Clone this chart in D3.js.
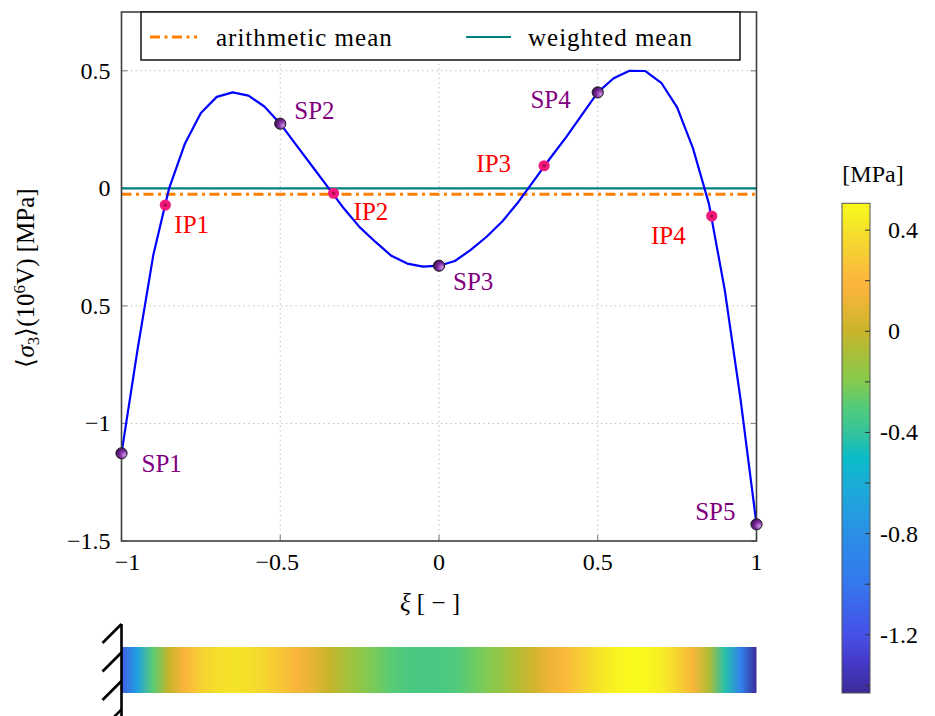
<!DOCTYPE html>
<html><head><meta charset="utf-8">
<script src="https://cdn.jsdelivr.net/npm/d3@7"></script>
</head><body style="margin:0;background:#fff">
<svg id="chart" width="935" height="716" style="display:block"></svg>
<script>
// ---------- data ----------
const xiValues = [-1,-0.95,-0.9,-0.85,-0.8,-0.75,-0.7,-0.65,-0.6,-0.55,-0.5,-0.45,-0.4,-0.35,-0.3,-0.25,-0.2,-0.15,-0.1,-0.05,0,
  0.05,0.1,0.15,0.2,0.25,0.3,0.35,0.4,0.45,0.5,0.55,0.6,0.65,0.7,0.75,0.8,0.85,0.9,0.95,1];
const sigmaValues = [-1.127,-0.69,-0.285,0.0,0.191,0.320,0.389,0.408,0.394,0.348,0.275,0.185,0.095,0.005,-0.085,-0.165,-0.228,-0.287,-0.320,-0.333,-0.329,
  -0.309,-0.262,-0.206,-0.140,-0.058,0.035,0.128,0.217,0.312,0.408,0.468,0.500,0.499,0.449,0.344,0.170,-0.065,-0.432,-0.900,-1.429];

const spNames = ["SP1","SP2","SP3","SP4","SP5"];
const spXi = [-1,-0.5,0,0.5,1];
const spSigma = [-1.127,0.275,-0.329,0.408,-1.429];

const ipNames = ["IP1","IP2","IP3","IP4"];
const ipXi = [-0.862,-0.332,0.331,0.859];
const ipSigma = [-0.071,-0.021,0.096,-0.118];

const arithmeticMean = -0.025;
const weightedMean = 0.0;

const xTickValues = [-1,-0.5,0,0.5,1];
const xTickLabels = ["\u22121","\u22120.5","0","0.5","1"];
const yTickValues = [-1.5,-1,-0.5,0,0.5];
const yTickLabels = ["\u22121.5","\u22121","0.5","0","0.5"];

const cbarMajorTicks = [0.4,0,-0.4,-0.8,-1.2];
const cbarMajorLabels = ["0.4","0","-0.4","-0.8","-1.2"];
const cbarMinorTicks = [0.2,-0.2,-0.6,-1.0,-1.4];
const cbarDomain = [-1.43,0.506];

// colormap
const cmapValues = [-1.43,-1.3,-1.2,-1.0,-0.8,-0.7,-0.6,-0.5,-0.4,-0.3,-0.2,-0.1,0.0,0.1,0.2,0.3,0.4,0.506];
const cmapColors = ["#3d2a98","#453bcb","#4650e8","#3577ee","#2a8fe6","#229fe0","#1aaed6","#0bbcc9","#35c39b","#52cb7a","#85ca4e","#a5c13c","#c8b42a","#e9b535","#fdb53d","#f6cc35","#f5e12a","#f9fa1c"];

// ---------- layout / style ----------
const svg = d3.select("#chart");
const P = {left:121.5, right:756.5, top:12, bottom:541};
const x = d3.scaleLinear().domain([-1,1]).range([P.left,P.right]);
const y = d3.scaleLinear().domain([-1.5,0.75]).range([P.bottom,P.top]);
const cmap = d3.scaleLinear().domain(cmapValues).range(cmapColors).interpolate(d3.interpolateRgb);

function txt(sel){
  return sel.append("text").attr("font-family","Liberation Serif").style("font-family","'Liberation Serif', serif").attr("fill","#000");
}

const defs = svg.append("defs");
const spGrad = defs.append("radialGradient").attr("id","spball").attr("cx","0.7").attr("cy","0.62").attr("r","0.8").attr("fx","0.78").attr("fy","0.68");
spGrad.append("stop").attr("offset","0").attr("stop-color","#d49ae6");
spGrad.append("stop").attr("offset","0.45").attr("stop-color","#7e2ea0");
spGrad.append("stop").attr("offset","1").attr("stop-color","#2e0640");

// grid
const gridX = xTickValues.filter(v => v>-1 && v<1);
const gridY = yTickValues.filter(v => v>-1.5);
svg.append("g").selectAll("line").data(gridX).join("line")
  .attr("x1",d=>x(d)).attr("x2",d=>x(d)).attr("y1",P.top).attr("y2",P.bottom)
  .attr("stroke","#b8b8b8").attr("stroke-width",1).attr("stroke-dasharray","1.3 3.4");
svg.append("g").selectAll("line").data(gridY).join("line")
  .attr("x1",P.left).attr("x2",P.right).attr("y1",d=>y(d)).attr("y2",d=>y(d))
  .attr("stroke","#b8b8b8").attr("stroke-width",1).attr("stroke-dasharray","1.3 3.4");

// ticks (inward, both sides)
const tk = svg.append("g").attr("stroke","#8a8a8a").attr("stroke-width",1.2);
xTickValues.forEach(v=>{
  tk.append("line").attr("x1",x(v)).attr("x2",x(v)).attr("y1",P.bottom).attr("y2",P.bottom-6);
  tk.append("line").attr("x1",x(v)).attr("x2",x(v)).attr("y1",P.top).attr("y2",P.top+6);
});
yTickValues.forEach(v=>{
  tk.append("line").attr("x1",P.left).attr("x2",P.left+6).attr("y1",y(v)).attr("y2",y(v));
  tk.append("line").attr("x1",P.right).attr("x2",P.right-6).attr("y1",y(v)).attr("y2",y(v));
});

// mean lines
svg.append("line").attr("x1",P.left).attr("x2",P.right).attr("y1",y(weightedMean)).attr("y2",y(weightedMean))
  .attr("stroke","#008080").attr("stroke-width",2.2);
svg.append("line").attr("x1",P.left).attr("x2",P.right).attr("y1",y(arithmeticMean)).attr("y2",y(arithmeticMean))
  .attr("stroke","#ff8000").attr("stroke-width",3).attr("stroke-dasharray","10 4.5 3 4.5");

// curve
const line = d3.line().x((d,i)=>x(xiValues[i])).y(d=>y(d));
svg.append("path").datum(sigmaValues).attr("d",line).attr("fill","none")
  .attr("stroke","#0000ff").attr("stroke-width",2.2).attr("stroke-linejoin","round");

// frame
svg.append("rect").attr("x",P.left).attr("y",P.top).attr("width",P.right-P.left).attr("height",P.bottom-P.top)
  .attr("fill","none").attr("stroke","#404040").attr("stroke-width",1.6);

// markers
const ipG = svg.append("g");
ipXi.forEach((v,i)=>{
  ipG.append("circle").attr("cx",x(v)).attr("cy",y(ipSigma[i])).attr("r",5.6).attr("fill","#f0197d");
  ipG.append("circle").attr("cx",x(v)).attr("cy",y(ipSigma[i])).attr("r",1.7).attr("fill","#b00840");
});
const spG = svg.append("g");
spXi.forEach((v,i)=>{
  spG.append("circle").attr("cx",x(v)).attr("cy",y(spSigma[i])).attr("r",5.6)
    .attr("fill","url(#spball)").attr("stroke","#1a1a1a").attr("stroke-width",1);
});

// labels
const spLabelPos = [{dx:20,dy:19,a:"start"},{dx:14,dy:-5,a:"start"},{dx:14,dy:24,a:"start"},{dx:-27,dy:16,a:"end"},{dx:-21,dy:-4,a:"end"}];
const ipLabelPos = [{dx:9,dy:28,a:"start"},{dx:20,dy:27,a:"start"},{dx:-33,dy:6,a:"end"},{dx:-26,dy:28,a:"end"}];
spNames.forEach((n,i)=>{
  txt(svg).attr("x",x(spXi[i])+spLabelPos[i].dx).attr("y",y(spSigma[i])+spLabelPos[i].dy)
    .attr("text-anchor",spLabelPos[i].a).attr("font-size",25).attr("fill","#800080").text(n);
});
ipNames.forEach((n,i)=>{
  txt(svg).attr("x",x(ipXi[i])+ipLabelPos[i].dx).attr("y",y(ipSigma[i])+ipLabelPos[i].dy)
    .attr("text-anchor",ipLabelPos[i].a).attr("font-size",25).attr("fill","#ff0000").text(n);
});

// tick labels
xTickValues.forEach((v,i)=>{
  txt(svg).attr("x",x(v)+(i===0?6:(i===1?-3:0))).attr("y",569.5).attr("text-anchor","middle")
    .attr("font-size",24).text(xTickLabels[i]);
});
yTickValues.forEach((v,i)=>{
  txt(svg).attr("x",110.5).attr("y",y(v)+8).attr("text-anchor","end")
    .attr("font-size",24).text(yTickLabels[i]);
});

// axis titles
const xt = txt(svg).attr("x",430).attr("y",611).attr("text-anchor","middle").attr("font-size",25);
xt.append("tspan").attr("font-style","italic").text("\u03BE");
xt.append("tspan").text(" [ \u2212 ]");

const yt = txt(svg).attr("transform","translate(34,278) rotate(-90)").attr("text-anchor","middle").attr("font-size",25);
yt.append("tspan").text("\u27E8");
yt.append("tspan").attr("font-style","italic").text("\u03C3");
yt.append("tspan").attr("font-size",17).attr("dy",5).text("3");
yt.append("tspan").attr("dy",-5).text("\u27E9(10");
yt.append("tspan").attr("font-size",17).attr("dy",-9).text("6");
yt.append("tspan").attr("dy",9).text("V) [MPa]");

// legend
const lg = svg.append("g");
lg.append("rect").attr("x",141).attr("y",12).attr("width",599).attr("height",48)
  .attr("fill","#fff").attr("stroke","#222").attr("stroke-width",1.6);
lg.append("line").attr("x1",150).attr("x2",197).attr("y1",37).attr("y2",37)
  .attr("stroke","#ff8000").attr("stroke-width",3).attr("stroke-dasharray","10 4.5 3 4.5");
txt(lg).attr("x",216).attr("y",46).attr("font-size",25).attr("letter-spacing","1").text("arithmetic mean");
lg.append("line").attr("x1",466).attr("x2",511).attr("y1",37).attr("y2",37)
  .attr("stroke","#008080").attr("stroke-width",2.2);
txt(lg).attr("x",528).attr("y",46).attr("font-size",25).attr("letter-spacing","1").text("weighted mean");

// colour bar
const cb = {x:842, w:28, top:203.3, bottom:693};
const cy = d3.scaleLinear().domain(cbarDomain).range([cb.bottom,cb.top]);
const cg = defs.append("linearGradient").attr("id","cbgrad").attr("x1",0).attr("x2",0).attr("y1",1).attr("y2",0);
cmapValues.forEach((v,i)=>{
  cg.append("stop").attr("offset",(v-cbarDomain[0])/(cbarDomain[1]-cbarDomain[0])).attr("stop-color",cmapColors[i]);
});
svg.append("rect").attr("x",cb.x).attr("y",cb.top).attr("width",cb.w).attr("height",cb.bottom-cb.top)
  .attr("fill","url(#cbgrad)").attr("stroke","#555").attr("stroke-width",1);
cbarMajorTicks.concat(cbarMinorTicks).forEach(v=>{
  svg.append("line").attr("x1",cb.x+cb.w).attr("x2",cb.x+cb.w-5).attr("y1",cy(v)).attr("y2",cy(v))
    .attr("stroke","#333").attr("stroke-width",1);
});
cbarMajorTicks.forEach((v,i)=>{
  const lab = cbarMajorLabels[i];
  txt(svg).attr("x",lab.startsWith("-")?880:888).attr("y",cy(v)+8).attr("font-size",24).text(lab);
});
txt(svg).attr("x",873).attr("y",182).attr("text-anchor","middle").attr("font-size",24).text("[MPa]");

// beam bar coloured by the curve values
const bg = defs.append("linearGradient").attr("id","beamgrad").attr("x1",0).attr("x2",1).attr("y1",0).attr("y2",0);
xiValues.forEach((v,i)=>{
  bg.append("stop").attr("offset",(v+1)/2).attr("stop-color",cmap(sigmaValues[i]));
});
svg.append("rect").attr("x",x(-1)).attr("y",647).attr("width",x(1)-x(-1)).attr("height",46)
  .attr("fill","url(#beamgrad)");

// clamped support
const sup = svg.append("g").attr("stroke","#000").attr("stroke-width",2.6).attr("stroke-linecap","butt");
sup.append("line").attr("x1",x(-1)).attr("x2",x(-1)).attr("y1",624).attr("y2",716);
[624,652.5,681,709.5].forEach(y0=>{
  sup.append("line").attr("x1",x(-1)).attr("y1",y0).attr("x2",x(-1)-19).attr("y2",y0+19);
});
</script>
</body></html>
